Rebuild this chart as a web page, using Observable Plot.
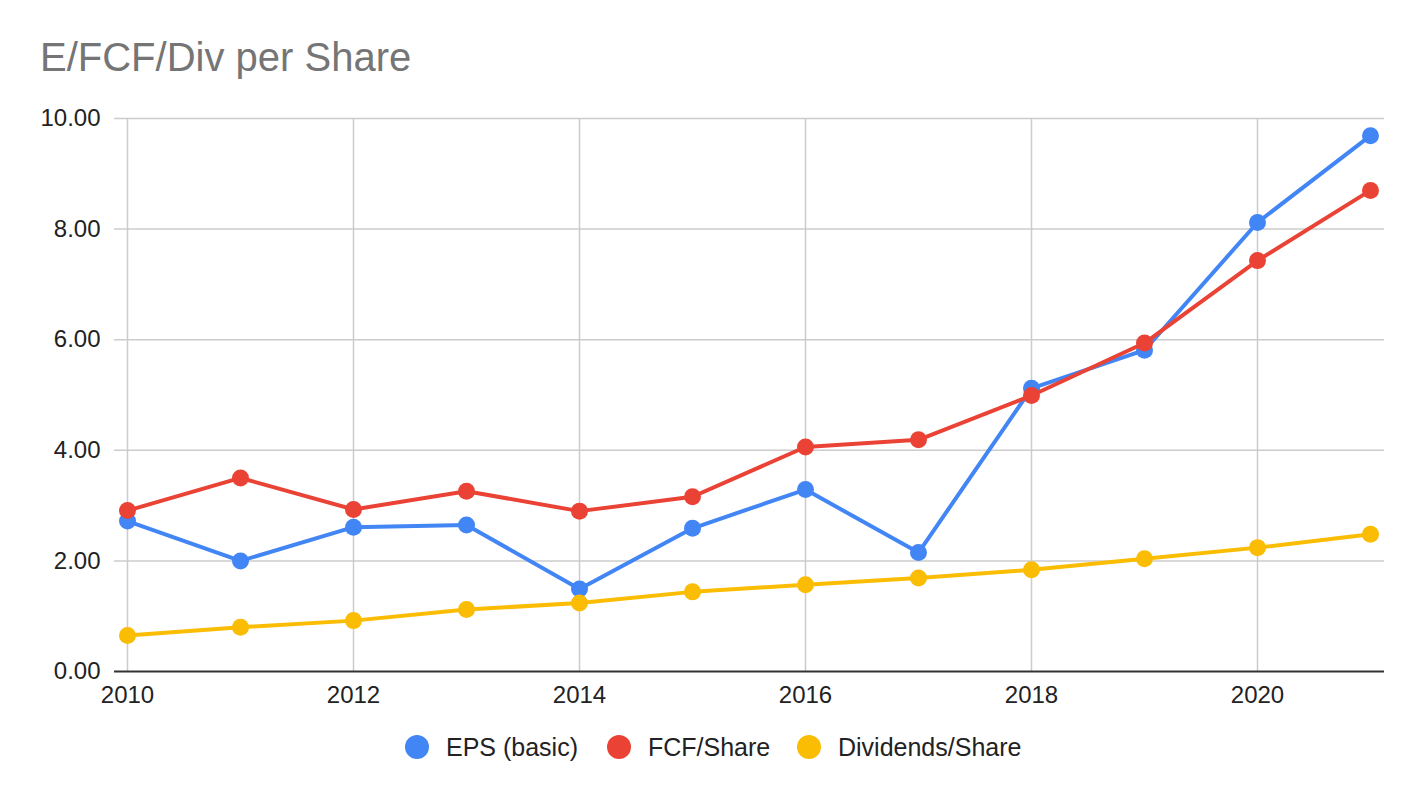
<!DOCTYPE html>
<html>
<head>
<meta charset="utf-8">
<script src="https://cdn.jsdelivr.net/npm/d3@7"></script>
<script src="https://cdn.jsdelivr.net/npm/@observablehq/plot@0.6"></script>
<style>
  html, body { margin: 0; padding: 0; background: #fff; }
  #wrap { position: relative; width: 1424px; height: 798px; overflow: hidden; font-family: Arial, "Liberation Sans", sans-serif; }
  #title { position: absolute; left: 40px; top: 37px; font-size: 40px; color: #757575; line-height: 1; white-space: nowrap; }
  #legend { position: absolute; left: 0; top: 732px; width: 1424px; height: 30px; }
  .item { position: absolute; top: 0; height: 30px; display: flex; align-items: center; font-size: 25px; color: #222; white-space: nowrap; }
  .sw { width: 24px; height: 24px; border-radius: 50%; margin-right: 17px; flex: none; }
  #chart { position: absolute; left: 0; top: 0; }
</style>
</head>
<body>
<div id="wrap">
  <div id="chart"></div>
  <div id="title">E/FCF/Div per Share</div>
  <div id="legend"></div>
</div>
<script>
const years = [2010, 2011, 2012, 2013, 2014, 2015, 2016, 2017, 2018, 2019, 2020, 2021];
const eps = [2.72, 2.00, 2.61, 2.65, 1.49, 2.59, 3.29, 2.15, 5.12, 5.81, 8.12, 9.69];
const fcf = [2.91, 3.50, 2.93, 3.26, 2.90, 3.16, 4.06, 4.19, 4.99, 5.94, 7.43, 8.70];
const div = [0.65, 0.80, 0.92, 1.12, 1.24, 1.44, 1.57, 1.69, 1.84, 2.04, 2.24, 2.48];
const seriesNames = ["EPS (basic)", "FCF/Share", "Dividends/Share"];
const seriesColors = ["#4285F4", "#EA4335", "#FBBC04"];
const xTicks = [2010, 2012, 2014, 2016, 2018, 2020];
const yTicks = [0, 2, 4, 6, 8, 10];

const seriesValues = [eps, fcf, div];
const rows = [];
seriesValues.forEach((vals, si) => {
  vals.forEach((v, i) => rows.push({series: seriesNames[si], year: years[i], value: v}));
});

const marks = [
  Plot.ruleY(yTicks.filter(d => d !== 0), {y: d => d, stroke: "#cccccc", strokeWidth: 1.5}),
  Plot.ruleX(xTicks, {x: d => d, stroke: "#cccccc", strokeWidth: 1.5}),
  Plot.ruleY([0], {stroke: "#333333", strokeWidth: 2}),
  Plot.axisY(yTicks, {tickSize: 0, tickPadding: 14, tickFormat: d3.format(".2f"), fontSize: 24, fill: "#222", label: null}),
  Plot.axisX(xTicks, {tickSize: 0, tickPadding: 14, tickFormat: d => String(d), fontSize: 24, fill: "#222", label: null})
];
seriesNames.forEach((name, si) => {
  const data = rows.filter(r => r.series === name);
  marks.push(Plot.line(data, {x: "year", y: "value", stroke: seriesColors[si], strokeWidth: 4}));
  marks.push(Plot.dot(data, {x: "year", y: "value", r: 8.5, fill: seriesColors[si], stroke: "none"}));
});

const plot = Plot.plot({
  width: 1424,
  height: 798,
  marginTop: 118,
  marginBottom: 127,
  marginLeft: 114,
  marginRight: 40,
  style: {fontFamily: 'Arial, "Liberation Sans", sans-serif', fontSize: "24px", color: "#222", background: "transparent"},
  x: {type: "linear", domain: [2010 - 13 / 113, 2021 + 14 / 113], axis: null},
  y: {domain: [0, 10], axis: null},
  marks
});
document.getElementById("chart").appendChild(plot);

const legend = document.getElementById("legend");
const legendX = [405, 607, 797];
seriesNames.forEach((name, i) => {
  const it = document.createElement("div");
  it.className = "item";
  it.style.left = legendX[i] + "px";
  const sw = document.createElement("div");
  sw.className = "sw";
  sw.style.background = seriesColors[i];
  it.appendChild(sw);
  const t = document.createElement("span");
  t.textContent = name;
  it.appendChild(t);
  legend.appendChild(it);
});
</script>
</body>
</html>
